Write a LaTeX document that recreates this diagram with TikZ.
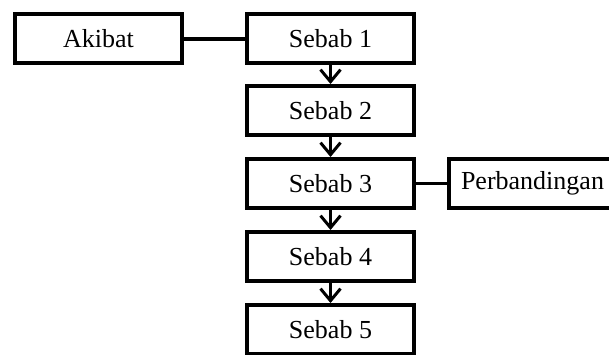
\documentclass[tikz,border=0pt]{standalone}
\usepackage{fontspec}
\setmainfont{Liberation Serif}
\usetikzlibrary{arrows.meta}

\begin{document}
\begin{tikzpicture}[x=0.5pt,y=-0.5pt,
    kotak/.style={draw, line width=2pt, minimum width=83.5pt, minimum height=24.5pt,
        inner sep=0pt, font=\fontsize{13}{15}\selectfont},
    panah/.style={line width=1.5pt, -{Straight Barb[length=6pt,width=10pt]}}]
\clip (0,0) rectangle (609,354);

% Kotak
\node[kotak] (akibat) at (98.5,38.5) {Akibat};
\node[kotak] (sebab1) at (330.5,38.5) {Sebab 1};
\node[kotak] (sebab2) at (330.5,110.5) {Sebab 2};
\node[kotak] (sebab3) at (330.5,183.5) {Sebab 3};
\node[kotak] (sebab4) at (330.5,256.5) {Sebab 4};
\node[kotak] (sebab5) at (330.5,329.5) {Sebab 5};
\node[kotak] (banding) at (532.5,183.5) {Perbandingan};

% Garis
\draw[line width=2pt] (akibat) -- (sebab1);
\draw[line width=1.5pt] (sebab3) -- (banding);

% Panah
\draw[panah] (sebab1) -- (sebab2);
\draw[panah] (sebab2) -- (sebab3);
\draw[panah] (sebab3) -- (sebab4);
\draw[panah] (sebab4) -- (sebab5);
\end{tikzpicture}
\end{document}
